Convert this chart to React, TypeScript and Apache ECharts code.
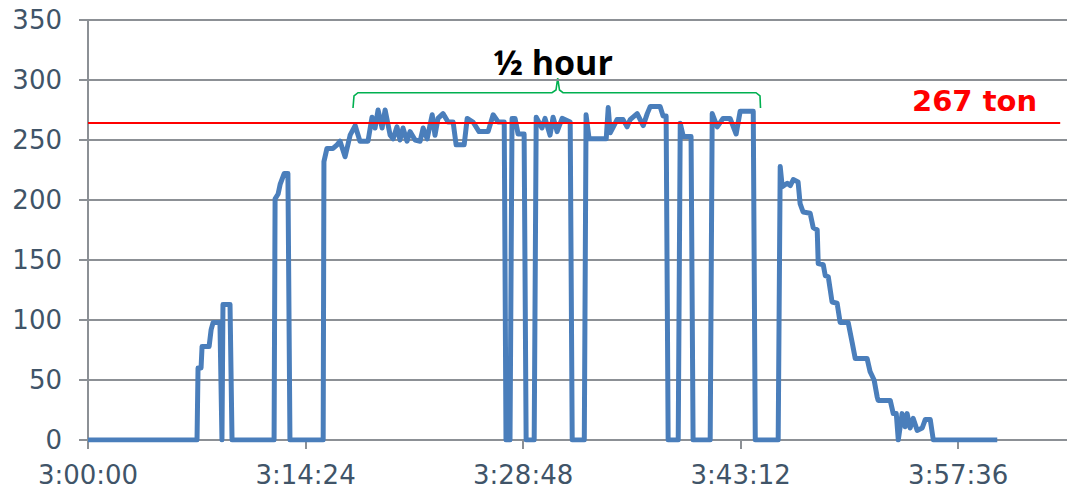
import React, { useEffect, useRef } from "react";
import * as echarts from "echarts";

// seconds after 3:00:00
const times: number[] = [
  0, 433, 437, 449, 453, 481, 489, 497, 524, 532, 536, 564, 572, 739, 743, 755, 763, 779, 794, 802,
  934, 937, 949, 973, 989, 1001, 1021, 1041, 1061, 1080, 1112, 1128, 1140, 1152, 1168, 1180, 1200,
  1212, 1227, 1239, 1251, 1267, 1279, 1299, 1319, 1331, 1347, 1367, 1378, 1390, 1410, 1430, 1450,
  1462, 1494, 1506, 1529, 1553, 1589, 1609, 1629, 1653, 1660, 1676, 1684, 1696, 1708, 1732, 1740,
  1772, 1780, 1803, 1815, 1835, 1847, 1863, 1883, 1915, 1923, 1971, 1978, 1990, 2058, 2066, 2074,
  2089, 2101, 2125, 2141, 2153, 2181, 2205, 2221, 2233, 2272, 2284, 2296, 2304, 2344, 2352, 2364,
  2395, 2403, 2471, 2479, 2499, 2522, 2550, 2574, 2590, 2642, 2650, 2741, 2749, 2757, 2777, 2789,
  2801, 2820, 2828, 2840, 2868, 2880, 2896, 2900, 2920, 2928, 2940, 2955, 2975, 2987, 3019, 3035,
  3047, 3094, 3106, 3122, 3134, 3138, 3186, 3198, 3210, 3218, 3233, 3245, 3253, 3265, 3277, 3293,
  3313, 3325, 3345, 3357, 3611,
];
// tons
const tons: number[] = [
  0, 0, 60, 60, 78, 78, 92, 98, 98, 0, 113, 113, 0, 0, 201, 205, 213, 222, 222, 0,
  0, 232, 243, 243, 246, 249, 236, 254, 262, 249, 249, 269, 260, 275, 260, 275, 254,
  251, 261, 250, 260, 249, 257, 250, 249, 260, 251, 271, 254, 268, 272, 265, 265,
  246, 246, 268, 265, 257, 257, 271, 265, 265, 0, 0, 268, 268, 255, 255, 0,
  0, 269, 260, 268, 254, 269, 257, 268, 265, 0, 0, 271, 251, 251, 277, 256,
  262, 267, 267, 261, 267, 272, 262, 272, 278, 278, 270, 270, 0, 0, 264, 253,
  253, 0, 0, 272, 261, 268, 268, 255, 274, 274, 0, 0, 228, 211, 214, 212,
  217, 215, 197, 190, 189, 177, 175, 147, 146, 137, 136, 115, 114, 98, 98, 81,
  68, 68, 57, 50, 36, 33, 33, 22, 22, 0, 22, 11, 22, 10, 18, 8,
  10, 17, 17, 0, 0,
];

const yTicks: number[] = [0, 50, 100, 150, 200, 250, 300, 350];
const xTickStep = 864; // 14:24
const xMax = 3888;
const threshold = 264;
const thresholdLabel = "267 ton";
const titleLabel = "½ hour";

function fmtTime(sec: number): string {
  const t = 3 * 3600 + Math.round(sec);
  const h = Math.floor(t / 3600);
  const m = Math.floor((t % 3600) / 60);
  const s = t % 60;
  return `${h}:${String(m).padStart(2, "0")}:${String(s).padStart(2, "0")}`;
}

export default function App() {
  const ref = useRef<HTMLDivElement>(null);
  useEffect(() => {
    document.body.style.margin = "0";
    if (!ref.current) return;
    const chart = echarts.init(ref.current, undefined, { renderer: "svg" });
    const labelColor = "#405468";
    const gridColor = "#8C9095";
    chart.setOption({
      animation: false,
      backgroundColor: "#ffffff",
      grid: { left: 88, right: 0, top: 20, bottom: 52, containLabel: false },
      xAxis: {
        type: "value",
        min: 0,
        max: xMax,
        interval: xTickStep,
        axisLine: { show: true, lineStyle: { color: gridColor, width: 2 } },
        axisTick: { show: true, length: 9, lineStyle: { color: gridColor, width: 2 } },
        splitLine: { show: false },
        axisLabel: {
          color: labelColor,
          fontSize: 26,
          fontFamily: "DejaVu Sans",
          margin: 22,
          showMaxLabel: false,
          formatter: (v: number) => fmtTime(v),
        },
      },
      yAxis: {
        type: "value",
        min: yTicks[0],
        max: yTicks[yTicks.length - 1],
        interval: 50,
        axisLine: { show: true, lineStyle: { color: gridColor, width: 2 } },
        axisTick: { show: true, length: 9, lineStyle: { color: gridColor, width: 2 } },
        splitLine: { show: true, lineStyle: { color: gridColor, width: 2 } },
        axisLabel: {
          color: labelColor,
          fontSize: 26,
          fontFamily: "DejaVu Sans",
          margin: 26,
        },
      },
      series: [
        {
          type: "line",
          data: times.map((t, i) => [t, tons[i]]),
          showSymbol: false,
          symbol: "none",
          lineStyle: { color: "#4A7EBB", width: 5, join: "round" },
          z: 3,
          markLine: {
            silent: true,
            symbol: "none",
            label: { show: false },
            lineStyle: { color: "#FF0000", width: 2, type: "solid" },
            data: [[{ coord: [0, threshold] }, { coord: [3861, threshold] }]],
            z: 4,
          },
        },
      ],
      graphic: [
        {
          type: "text",
          left: 912,
          top: 86,
          style: {
            text: thresholdLabel,
            fill: "#FF0000",
            font: "bold 29px 'DejaVu Sans'",
          },
        },
        {
          type: "text",
          x: 553,
          y: 62,
          style: {
            text: titleLabel,
            fill: "#000000",
            font: "bold 34px 'Open Sans'",
            textAlign: "center",
            textVerticalAlign: "middle",
          },
        },
        {
          type: "polyline",
          shape: {
            points: [
              [353, 108], [354, 96], [358, 92.7], [552, 92.7], [556, 90], [557.7, 78],
              [559.5, 90], [563, 92.7], [756, 92.7], [760, 96], [760.5, 108],
            ],
          },
          style: { stroke: "#00B050", lineWidth: 1.6, fill: "none" },
        },
      ],
    });
    return () => chart.dispose();
  }, []);
  return <div ref={ref} style={{ width: 1067, height: 492 }} />;
}
